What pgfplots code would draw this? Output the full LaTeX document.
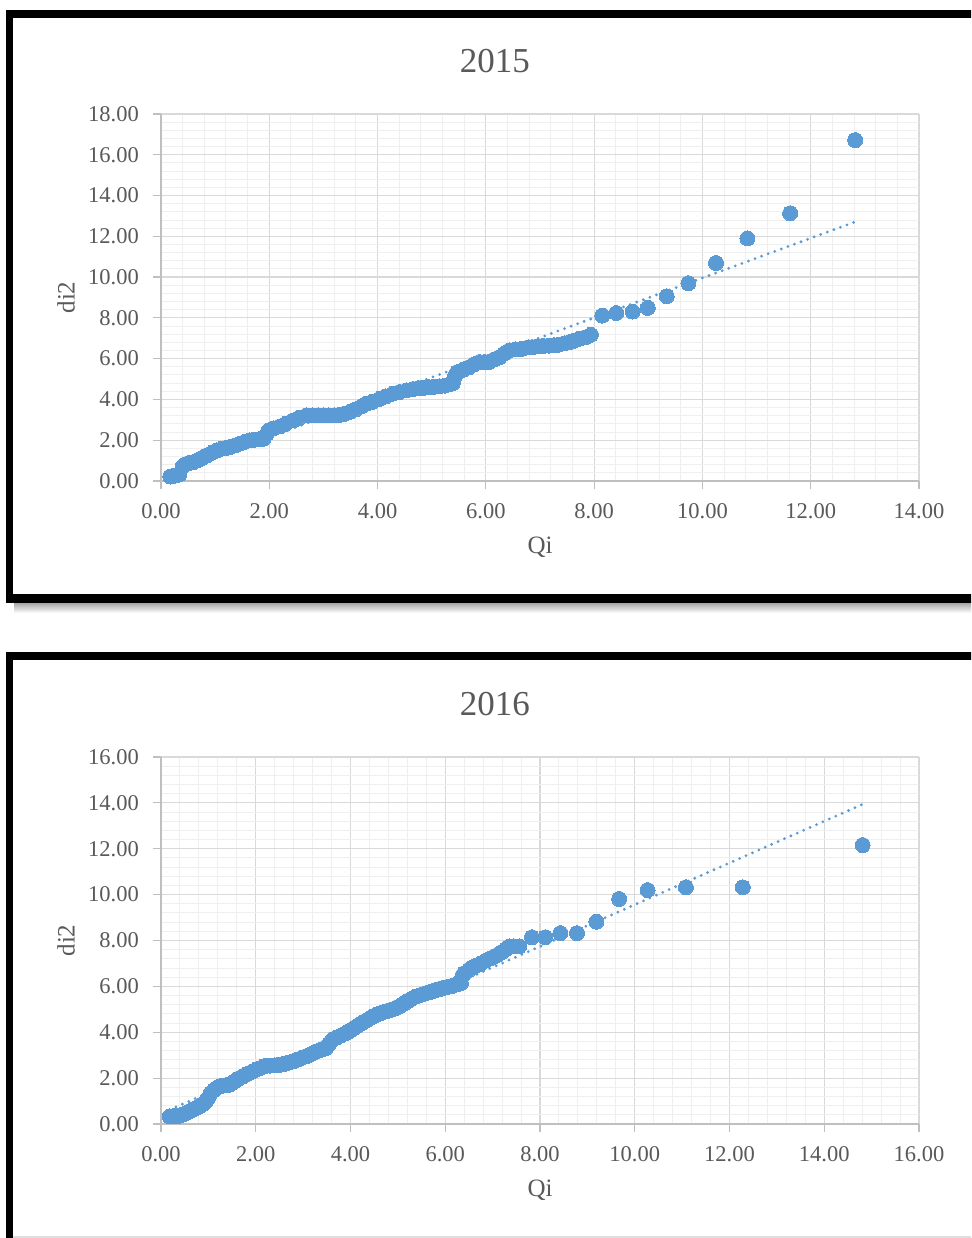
\documentclass[border=0pt]{standalone}
\usepackage{fontspec}
\setmainfont{Liberation Serif}
\usepackage{pgfplots}
\pgfplotsset{compat=1.18}
\definecolor{ptblue}{HTML}{5B9BD5}
\definecolor{gridmaj}{HTML}{D9D9D9}
\definecolor{gridmin}{HTML}{EFEFEF}
\definecolor{axgray}{HTML}{BFBFBF}
\definecolor{txt}{HTML}{595959}
\pgfplotsset{
  qq/.style={
    scale only axis, width=758pt, height=367pt, anchor=south west,
    axis x line*=bottom, axis y line*=left,
    axis line style={draw=axgray, line width=1.2pt},
    grid=both,
    major grid style={draw=gridmaj, line width=1.2pt},
    minor grid style={draw=gridmin, line width=1pt},
    minor x tick num=4, minor y tick num=4,
    tick align=outside, major tick length=8pt, minor tick length=0pt,
    tick style={draw=axgray, line width=1.2pt},
    ticklabel style={font=\fontsize{22.5}{27}\selectfont, text=txt, inner sep=0pt},
    xticklabel shift=14pt, yticklabel shift=14pt,
    /pgf/number format/.cd, fixed, fixed zerofill, precision=2, assume math mode=true,
    /pgfplots/.cd,
    title style={font=\fontsize{35}{42}\selectfont, text=txt, anchor=center},
    label style={font=\fontsize{25}{30}\selectfont, text=txt},
    xlabel style={at={(rel axis cs:0.5,-0.18)}, anchor=center},
    ylabel style={at={(rel axis cs:-0.1253,0.5)}, anchor=center, rotate=0},
    xlabel={Qi}, ylabel={di2},
  },
  pts/.style={only marks, mark=*, mark size=7.5pt, mark options={fill=ptblue, draw=ptblue, line width=0pt}},
  trend/.style={ptblue, line width=3.1pt, line cap=round, dash pattern=on 0pt off 7pt, no marks},
}
\begin{document}
\begin{tikzpicture}
\useasboundingbox (0,0) rectangle (971pt,1238pt);
\clip (0,0) rectangle (971pt,1238pt);
\fill[white] (0,0) rectangle (971pt,1238pt);
% frames
\shade[top color=gray!70, bottom color=white] (14pt,625pt) rectangle (990pt,635pt);
\fill[black] (6pt,1220pt) rectangle (990pt,1228pt);
\fill[black] (6pt,635pt) rectangle (13pt,1228pt);
\fill[black] (6pt,635pt) rectangle (990pt,644pt);
\fill[black] (6pt,578pt) rectangle (990pt,586pt);
\fill[black] (6pt,-5pt) rectangle (13pt,586pt);
\fill[gray!25] (13pt,0pt) rectangle (990pt,2pt);

\begin{axis}[qq, at={(161pt,757pt)}, xmin=0, xmax=14, ymin=0, ymax=18,
  xtick={0,2,...,14}, ytick={0,2,...,18},
  title={2015}, title style={at={(rel axis cs:0.4406,1.128)}}]
\addplot[trend] coordinates {(0.17,0.37) (12.82,12.71)};
\addplot[pts] coordinates {
(0.17,0.22) (0.22,0.24) (0.28,0.27) (0.34,0.32) (0.40,0.70) (0.45,0.82) (0.52,0.88) (0.60,0.93)
(0.68,1.02) (0.76,1.13) (0.85,1.26) (0.94,1.38) (1.03,1.50) (1.12,1.58) (1.20,1.62) (1.28,1.67)
(1.37,1.75) (1.46,1.83) (1.55,1.92) (1.64,1.99) (1.72,2.02) (1.80,2.04) (1.89,2.07) (1.95,2.30)
(1.99,2.48) (2.08,2.58) (2.20,2.68) (2.30,2.80) (2.44,2.97) (2.55,3.10) (2.69,3.22) (2.80,3.22)
(2.90,3.22) (3.00,3.22) (3.10,3.22) (3.20,3.22) (3.30,3.24) (3.40,3.30) (3.50,3.40) (3.60,3.52)
(3.70,3.65) (3.79,3.79) (3.90,3.88) (4.04,4.03) (4.15,4.15) (4.28,4.28) (4.40,4.36) (4.53,4.44)
(4.65,4.50) (4.75,4.55) (4.85,4.57) (4.95,4.60) (5.05,4.62) (5.14,4.64) (5.25,4.68) (5.33,4.74)
(5.39,4.80) (5.43,5.15) (5.47,5.34) (5.58,5.45) (5.69,5.58) (5.78,5.72) (5.88,5.83) (5.97,5.83)
(6.06,5.84) (6.15,5.95) (6.25,6.07) (6.34,6.25) (6.43,6.40) (6.55,6.45) (6.67,6.48) (6.78,6.55)
(6.86,6.56) (6.95,6.60) (7.05,6.62) (7.17,6.64) (7.26,6.66) (7.35,6.69) (7.45,6.75) (7.54,6.81)
(7.63,6.88) (7.72,6.97) (7.84,7.05) (7.94,7.17) (8.15,8.11) (8.41,8.24) (8.71,8.31) (8.99,8.49)
(9.34,9.06) (9.74,9.70) (10.25,10.69) (10.83,11.90) (11.62,13.13) (12.82,16.72)
};
\end{axis}

\begin{axis}[qq, at={(161pt,114pt)}, xmin=0, xmax=16, ymin=0, ymax=16,
  xtick={0,2,...,16}, ytick={0,2,...,16},
  title={2016}, title style={at={(rel axis cs:0.4406,1.128)}}]
\addplot[trend] coordinates {(0.18,0.62) (14.81,13.94)};
\addplot[pts] coordinates {
(0.18,0.33) (0.25,0.34) (0.32,0.35) (0.39,0.36) (0.46,0.42) (0.53,0.48) (0.60,0.55) (0.67,0.63)
(0.74,0.70) (0.81,0.77) (0.88,0.87) (0.95,0.99) (1.00,1.15) (1.05,1.35) (1.12,1.48) (1.17,1.57)
(1.23,1.64) (1.30,1.67) (1.37,1.69) (1.44,1.71) (1.51,1.80) (1.58,1.90) (1.65,2.00) (1.72,2.07)
(1.79,2.15) (1.86,2.22) (1.93,2.29) (2.00,2.36) (2.08,2.43) (2.15,2.49) (2.22,2.54) (2.30,2.55)
(2.40,2.56) (2.50,2.58) (2.60,2.62) (2.70,2.68) (2.78,2.73) (2.88,2.80) (2.97,2.88) (3.06,2.95)
(3.13,3.01) (3.20,3.08) (3.27,3.16) (3.35,3.22) (3.42,3.27) (3.48,3.31) (3.55,3.50) (3.62,3.67)
(3.70,3.76) (3.80,3.86) (3.90,3.96) (3.97,4.05) (4.04,4.14) (4.11,4.23) (4.18,4.33) (4.25,4.42)
(4.33,4.51) (4.40,4.60) (4.47,4.69) (4.55,4.76) (4.62,4.82) (4.68,4.87) (4.75,4.91) (4.82,4.96)
(4.89,5.00) (4.96,5.06) (5.03,5.12) (5.10,5.22) (5.17,5.31) (5.24,5.40) (5.31,5.49) (5.38,5.55)
(5.45,5.60) (5.52,5.65) (5.59,5.70) (5.66,5.75) (5.73,5.79) (5.80,5.84) (5.87,5.88) (5.94,5.92)
(6.01,5.95) (6.08,5.99) (6.15,6.02) (6.24,6.08) (6.33,6.14) (6.36,6.45) (6.40,6.57) (6.50,6.72)
(6.58,6.84) (6.65,6.90) (6.74,6.98) (6.86,7.13) (6.95,7.22) (7.03,7.30) (7.10,7.37) (7.20,7.50)
(7.28,7.62) (7.35,7.74) (7.45,7.74) (7.56,7.74) (7.83,8.14) (8.11,8.14) (8.43,8.32) (8.78,8.32)
(9.19,8.82) (9.67,9.81) (10.27,10.20) (11.08,10.32) (12.28,10.32) (14.81,12.16)
};
\end{axis}
\end{tikzpicture}
\end{document}
